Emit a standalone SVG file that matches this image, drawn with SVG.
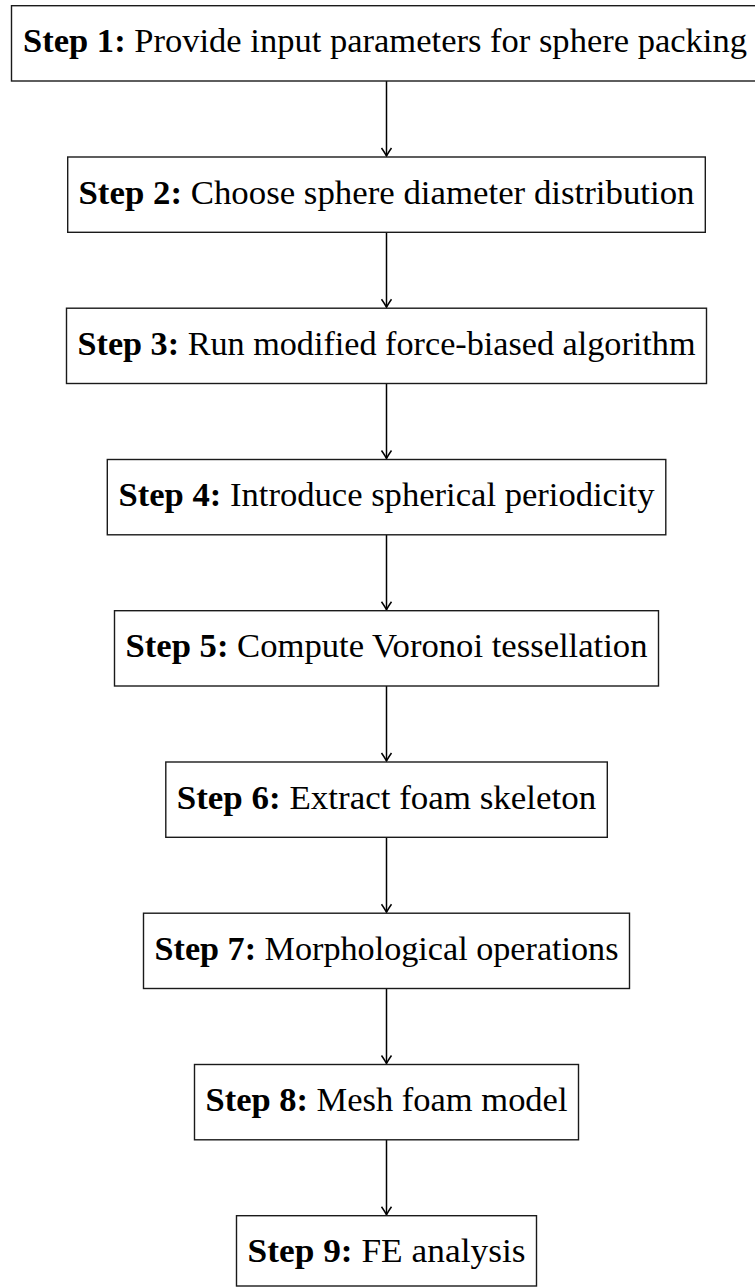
<svg xmlns="http://www.w3.org/2000/svg" width="755" height="1288" viewBox="0 0 755 1288">
<style>
.box{fill:#fff;stroke:#1a1a1a;stroke-width:1.4}
.lbl{font-family:"Liberation Serif","Times New Roman",serif;font-size:33px;fill:#000;text-anchor:middle}
.b{font-weight:bold}
.conn{stroke:#000;stroke-width:1.5;fill:none}
</style>
<defs>
<marker id="arr" markerUnits="userSpaceOnUse" viewBox="-10 -7 12 14" refX="0" refY="0" markerWidth="12" markerHeight="14" orient="auto">
<path d="M-8,-5 Q-2.5,-1.2 0,0 Q-2.5,1.2 -8,5" fill="none" stroke="#000" stroke-width="1.5"/>
</marker>
</defs>
<rect width="755" height="1288" fill="#fff"/>
<g id="connectors">
<line class="conn" x1="386.5" y1="81" x2="386.5" y2="156" marker-end="url(#arr)"/>
<line class="conn" x1="386.5" y1="232.3" x2="386.5" y2="307.3" marker-end="url(#arr)"/>
<line class="conn" x1="386.5" y1="383.5" x2="386.5" y2="458.5" marker-end="url(#arr)"/>
<line class="conn" x1="386.5" y1="534.8" x2="386.5" y2="609.8" marker-end="url(#arr)"/>
<line class="conn" x1="386.5" y1="686" x2="386.5" y2="761" marker-end="url(#arr)"/>
<line class="conn" x1="386.5" y1="837.3" x2="386.5" y2="912.3" marker-end="url(#arr)"/>
<line class="conn" x1="386.5" y1="988.5" x2="386.5" y2="1063.5" marker-end="url(#arr)"/>
<line class="conn" x1="386.5" y1="1139.8" x2="386.5" y2="1214.8" marker-end="url(#arr)"/>
</g>
<g id="step1">
<rect class="box" x="11.5" y="5.7" width="750" height="75.3"/>
<text class="lbl" x="385" y="52.2" textLength="724" lengthAdjust="spacingAndGlyphs"><tspan class="b">Step 1:</tspan> Provide input parameters for sphere packing</text>
</g>
<g id="step2">
<rect class="box" x="67.7" y="157" width="637.6" height="75.3"/>
<text class="lbl" x="386.5" y="203.5" textLength="616" lengthAdjust="spacingAndGlyphs"><tspan class="b">Step 2:</tspan> Choose sphere diameter distribution</text>
</g>
<g id="step3">
<rect class="box" x="66.5" y="308.2" width="640" height="75.3"/>
<text class="lbl" x="386.5" y="354.7" textLength="618" lengthAdjust="spacingAndGlyphs"><tspan class="b">Step 3:</tspan> Run modified force-biased algorithm</text>
</g>
<g id="step4">
<rect class="box" x="107.3" y="459.5" width="558.5" height="75.3"/>
<text class="lbl" x="386.5" y="506" textLength="536" lengthAdjust="spacingAndGlyphs"><tspan class="b">Step 4:</tspan> Introduce spherical periodicity</text>
</g>
<g id="step5">
<rect class="box" x="114.5" y="610.7" width="544" height="75.3"/>
<text class="lbl" x="386.5" y="657.2" textLength="522" lengthAdjust="spacingAndGlyphs"><tspan class="b">Step 5:</tspan> Compute Voronoi tessellation</text>
</g>
<g id="step6">
<rect class="box" x="165.8" y="762" width="441.5" height="75.3"/>
<text class="lbl" x="386.5" y="808.5" textLength="419.5" lengthAdjust="spacingAndGlyphs"><tspan class="b">Step 6:</tspan> Extract foam skeleton</text>
</g>
<g id="step7">
<rect class="box" x="143.5" y="913.2" width="486" height="75.3"/>
<text class="lbl" x="386.5" y="959.7" textLength="464" lengthAdjust="spacingAndGlyphs"><tspan class="b">Step 7:</tspan> Morphological operations</text>
</g>
<g id="step8">
<rect class="box" x="194.5" y="1064.5" width="384" height="75.3"/>
<text class="lbl" x="386.5" y="1111" textLength="362" lengthAdjust="spacingAndGlyphs"><tspan class="b">Step 8:</tspan> Mesh foam model</text>
</g>
<g id="step9">
<rect class="box" x="236.5" y="1215.7" width="300" height="70.3"/>
<text class="lbl" x="386.5" y="1262.2" textLength="278" lengthAdjust="spacingAndGlyphs"><tspan class="b">Step 9:</tspan> FE analysis</text>
</g>
</svg>
